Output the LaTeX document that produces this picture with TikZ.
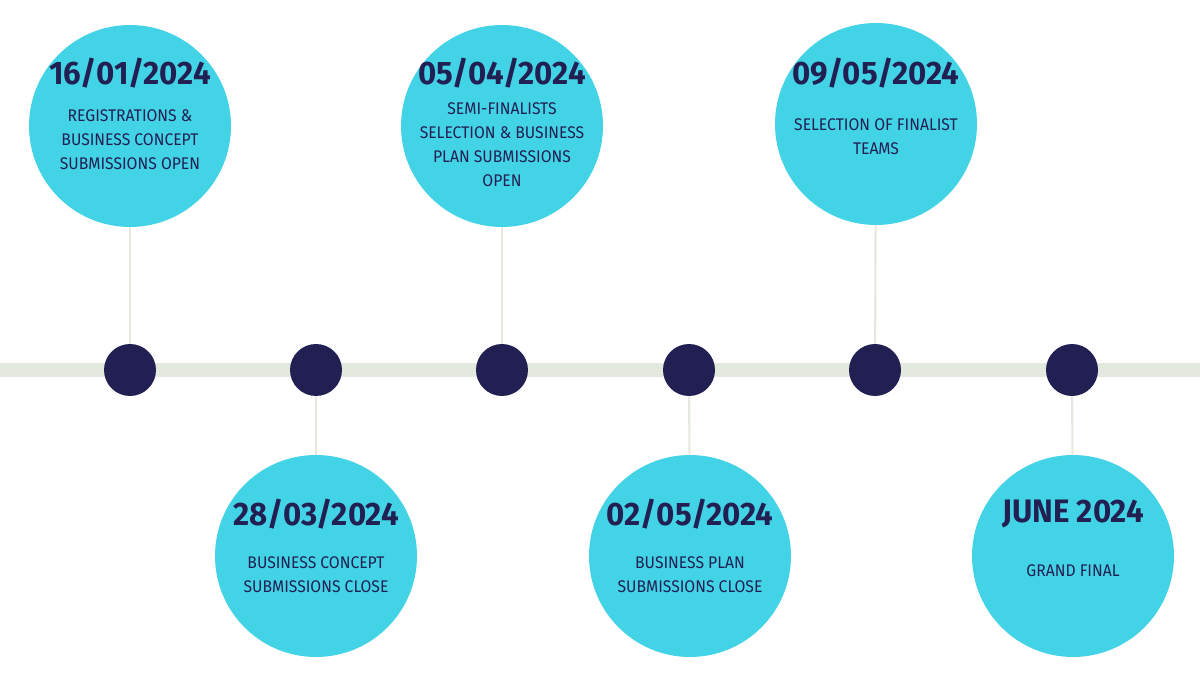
\documentclass[tikz,border=0pt]{standalone}
\usepackage{fontspec}
\setmainfont{Fira Sans}[FakeStretch=0.93, BoldFont={Fira Sans Bold}, BoldFeatures={FakeStretch=0.96}]
\definecolor{bubblecyan}{HTML}{43D3E6}
\definecolor{navy}{HTML}{221F52}
\definecolor{trackgray}{HTML}{E4E9DF}
\tikzset{
	bubble/.style={circle, fill=bubblecyan, minimum size=4.04cm, inner sep=0pt},
	dot/.style={circle, fill=navy, minimum size=1.04cm, inner sep=0pt},
	stem/.style={draw=trackgray, line width=1.2pt},
	track/.style={draw=trackgray, line width=7.4pt},
	datelabel/.style={text=navy, font=\fontsize{18.5}{20}\selectfont\bfseries, inner sep=0pt},
	eventlabel/.style={text=navy, font=\fontsize{9.6}{13.6}\selectfont, align=center, inner sep=0pt}
}
\begin{document}
\begin{tikzpicture}[x=0.02cm, y=-0.02cm]
	\useasboundingbox (0,0) rectangle (1200,675);
	\coordinate (tl) at (0,370);
	\coordinate (tr) at (1200,370);
	\draw[track] (tl) -- (tr);
	\node[bubble] (c1) at (130,126) {};
	\node[bubble] (c2) at (316,556) {};
	\node[bubble] (c3) at (502,126) {};
	\node[bubble] (c4) at (690,556) {};
	\node[bubble] (c5) at (876,124) {};
	\node[bubble] (c6) at (1073,556) {};
	\node[dot] (d1) at (130,370) {};
	\node[dot] (d2) at (316,370) {};
	\node[dot] (d3) at (502,370) {};
	\node[dot] (d4) at (689,370) {};
	\node[dot] (d5) at (875,370) {};
	\node[dot] (d6) at (1072,370) {};
	\draw[stem] (c1) -- (d1);
	\draw[stem] (d2) -- (c2);
	\draw[stem] (c3) -- (d3);
	\draw[stem] (d4) -- (c4);
	\draw[stem] (c5) -- (d5);
	\draw[stem] (d6) -- (c6);
	\node[datelabel] (t1) at (130,73) {16/01/2024};
	\node[eventlabel] (e1) at (130,140) {REGISTRATIONS \&\\BUSINESS CONCEPT\\SUBMISSIONS OPEN};
	\node[datelabel] (t2) at (316,514) {28/03/2024};
	\node[eventlabel] (e2) at (316,575) {BUSINESS CONCEPT\\SUBMISSIONS CLOSE};
	\node[datelabel] (t3) at (502,73) {05/04/2024};
	\node[eventlabel] (e3) at (502,145) {SEMI-FINALISTS\\SELECTION \& BUSINESS\\PLAN SUBMISSIONS\\OPEN};
	\node[datelabel] (t4) at (690,514) {02/05/2024};
	\node[eventlabel] (e4) at (690,575) {BUSINESS PLAN\\SUBMISSIONS CLOSE};
	\node[datelabel] (t5) at (876,73) {09/05/2024};
	\node[eventlabel] (e5) at (876,137) {SELECTION OF FINALIST\\TEAMS};
	\node[datelabel] (t6) at (1073,514) {JUNE 2024};
	\node[eventlabel] (e6) at (1073,571) {GRAND FINAL};
\end{tikzpicture}
\end{document}
